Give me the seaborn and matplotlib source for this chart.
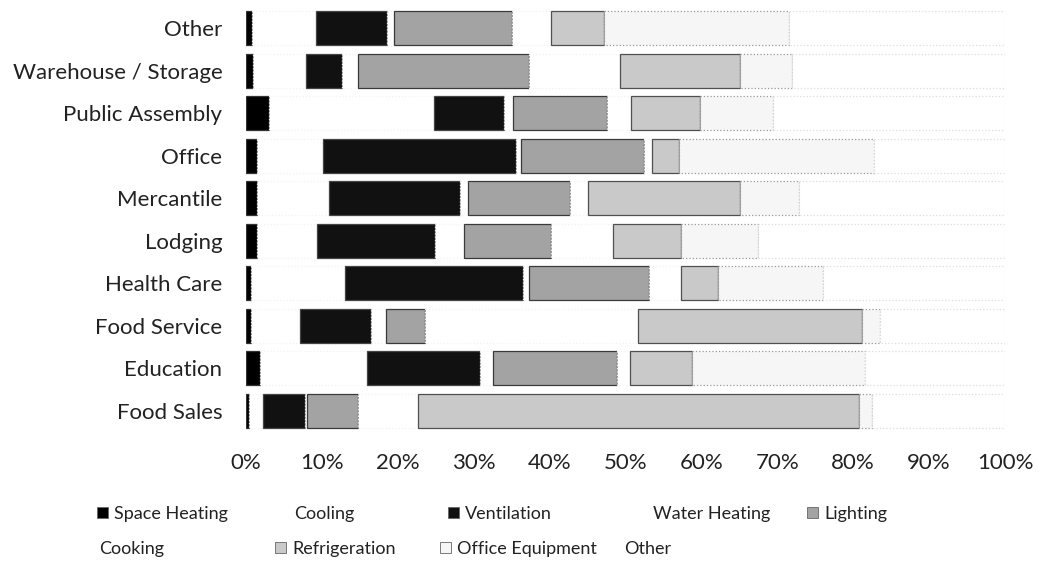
import numpy as np
import pandas as pd
import matplotlib
matplotlib.use("Agg")
import matplotlib.pyplot as plt
from matplotlib.patches import Patch
import seaborn as sns

# Building types, listed top to bottom
buildings = ["Other", "Warehouse / Storage", "Public Assembly", "Office", "Mercantile",
             "Lodging", "Health Care", "Food Service", "Education", "Food Sales"]

# Share of energy use by end use (%) for each building type
space_heating    = [0.8, 0.9, 3.0, 1.5, 1.5, 1.5, 0.7, 0.7, 1.9, 0.4]
cooling          = [8.4, 7.0, 21.8, 8.6, 9.4, 7.8, 12.3, 6.4, 14.0, 1.8]
ventilation      = [9.4, 4.8, 9.2, 25.5, 17.3, 15.6, 23.5, 9.4, 14.9, 5.6]
water_heating    = [0.9, 2.0, 1.2, 0.6, 1.1, 3.8, 0.8, 1.9, 1.8, 0.3]
lighting         = [15.5, 22.6, 12.4, 16.2, 13.4, 11.5, 15.8, 5.2, 16.3, 6.6]
cooking          = [5.2, 12.0, 3.1, 1.1, 2.3, 8.1, 4.2, 28.1, 1.7, 7.9]
refrigeration    = [7.0, 15.8, 9.1, 3.5, 20.1, 9.0, 4.9, 29.5, 8.2, 58.2]
office_equipment = [24.3, 6.9, 9.7, 25.8, 7.7, 10.2, 13.8, 2.3, 22.8, 1.7]
other            = [28.5, 28.0, 30.5, 17.2, 27.2, 32.5, 24.0, 16.5, 18.4, 17.5]

end_uses = ["Space Heating", "Cooling", "Ventilation", "Water Heating", "Lighting",
            "Cooking", "Refrigeration", "Office Equipment", "Other"]
values = [space_heating, cooling, ventilation, water_heating, lighting,
          cooking, refrigeration, office_equipment, other]

# Fill / edge styling per end use
fills = ["#000000", "#ffffff", "#111111", "#ffffff", "#a3a3a3",
         "#ffffff", "#c9c9c9", "#f6f6f6", "#ffffff"]
edges = ["#333333", "#f2f2f2", "#444444", "#f2f2f2", "#3a3a3a",
         "#f2f2f2", "#505050", "#9a9a9a", "#dddddd"]
edge_styles = ["-", ":", "-", ":", "-", ":", "-", ":", ":"]

sns.set_theme(style="white")
plt.rcParams["font.family"] = ["Lato", "DejaVu Sans"]

W, H = 1041, 565
fig = plt.figure(figsize=(W / 100, H / 100), dpi=100)
ax = fig.add_axes([0.2363, 0.235, 0.7291, 0.753])

left = np.zeros(len(buildings))
for name, vals, fc, ec, ls in zip(end_uses, values, fills, edges, edge_styles):
    df = pd.DataFrame({"building": buildings, "share": vals})
    sns.barplot(data=df, x="share", y="building", order=buildings, orient="y",
                color=fc, saturation=1, width=0.8, errorbar=None, ax=ax,
                left=left, edgecolor=ec, linewidth=0.9, linestyle=ls)
    left = left + np.asarray(vals)

ax.set_xlim(0, 100)
ax.set_xticks(np.arange(0, 101, 10))
ax.set_xticklabels([f"{v}%" for v in range(0, 101, 10)])
ax.set_xlabel("")
ax.set_ylabel("")
for s in ax.spines.values():
    s.set_visible(False)
ax.tick_params(axis="x", length=0, pad=15, labelsize=16, colors="#222222")
ax.tick_params(axis="y", length=0, pad=17, labelsize=16, colors="#222222")

# Legend: two rows of fixed-position entries under the plot
legend_pos = [(97, 514), (277, 514), (448, 514), (636, 514), (807, 514),
              (82, 549), (275, 549), (440, 549), (607, 549)]
for name, fc, (px, py) in zip(end_uses, fills, legend_pos):
    ec = "#ffffff" if fc == "#ffffff" else "#666666"
    h = Patch(facecolor=fc, edgecolor=ec, linewidth=0.6, label=name)
    fig.legend(handles=[h], loc="center left", bbox_to_anchor=(px / W, 1 - py / H),
               frameon=False, fontsize=13, handlelength=0.6, handleheight=0.6,
               handletextpad=0.35, borderaxespad=0, borderpad=0, labelcolor="#222222")

fig.savefig("out.png", dpi=100, facecolor="white")
